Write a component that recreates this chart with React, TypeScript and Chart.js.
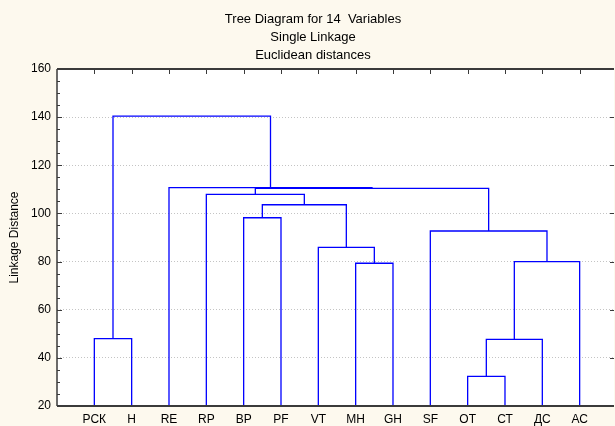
import React, { useEffect, useRef } from "react";
import { Chart, registerables } from "chart.js";

Chart.register(...registerables);

// Leaves of the tree, left to right
const leafLabels = ["РСК", "Н", "RE", "RP", "BP", "PF", "VT", "MH", "GH", "SF", "ОТ", "СТ", "ДС", "АС"];
// Merge steps: node ids < 14 are leaves, 14+ are clusters formed by earlier merges
const mergeLeft = [10, 0, 14, 7, 16, 6, 9, 4, 21, 3, 23, 2, 15];
const mergeRight = [11, 1, 12, 8, 13, 17, 18, 5, 19, 22, 20, 24, 25];
const mergeHeight = [32.3, 48.0, 47.7, 79.3, 80.0, 85.9, 92.7, 98.2, 103.6, 107.9, 110.4, 110.7, 140.4];
const yTicks = [20, 40, 60, 80, 100, 120, 140, 160];

const titleLines = ["Tree Diagram for 14  Variables", "Single Linkage", "Euclidean distances"];
const yTitle = "Linkage Distance";

const FONT = "Arial, 'Liberation Sans', sans-serif";
const CREAM = "#fdf9ee";

function buildDatasets() {
  const n = leafLabels.length;
  const base = yTicks[0];
  const nodeX: number[] = leafLabels.map((_, i) => i);
  const nodeY: number[] = leafLabels.map(() => base);
  const sets: any[] = [];
  for (let m = 0; m < mergeHeight.length; m++) {
    const a = mergeLeft[m];
    const b = mergeRight[m];
    const h = mergeHeight[m];
    sets.push({
      data: [
        { x: nodeX[a], y: nodeY[a] },
        { x: nodeX[a], y: h },
        { x: nodeX[b], y: h },
        { x: nodeX[b], y: nodeY[b] },
      ],
      showLine: true,
      borderColor: "#0000ff",
      borderWidth: 1.3,
      pointRadius: 0,
      tension: 0,
      fill: false,
    });
    nodeX[n + m] = (nodeX[a] + nodeX[b]) / 2;
    nodeY[n + m] = h;
  }
  return sets;
}

const framePlugin = {
  id: "frame",
  beforeDraw(chart: any) {
    const { ctx, chartArea: a } = chart;
    ctx.save();
    ctx.fillStyle = CREAM;
    ctx.fillRect(0, 0, chart.width, chart.height);
    ctx.fillStyle = "#ffffff";
    ctx.fillRect(a.left, a.top, a.right - a.left, a.bottom - a.top);
    ctx.restore();
  },
  afterDraw(chart: any) {
    const { ctx, chartArea: a, scales } = chart;
    const xs = scales.x;
    const ys = scales.y;
    ctx.save();
    ctx.strokeStyle = "#3a3a3a";
    // left border
    ctx.lineWidth = 1.5;
    ctx.beginPath();
    ctx.moveTo(a.left, a.top);
    ctx.lineTo(a.left, a.bottom);
    ctx.stroke();
    // top and bottom borders
    ctx.lineWidth = 2;
    ctx.beginPath();
    ctx.moveTo(a.left, a.top);
    ctx.lineTo(a.right, a.top);
    ctx.moveTo(a.left, a.bottom);
    ctx.lineTo(a.right, a.bottom);
    ctx.stroke();
    // y ticks (major + minor), inward, left and right
    ctx.lineWidth = 1;
    ctx.beginPath();
    for (let v = yTicks[0]; v <= yTicks[yTicks.length - 1]; v += 5) {
      const y = Math.round(ys.getPixelForValue(v)) + 0.5;
      const major = yTicks.includes(v);
      const len = major ? 5 : 3;
      ctx.moveTo(a.left, y);
      ctx.lineTo(a.left + len, y);
      if (major) {
        ctx.moveTo(a.right, y);
        ctx.lineTo(a.right - 4, y);
      }
    }
    // x ticks at top, inward
    for (let i = 0; i < leafLabels.length; i++) {
      const x = Math.round(xs.getPixelForValue(i)) + 0.5;
      ctx.moveTo(x, a.top);
      ctx.lineTo(x, a.top + 5);
    }
    ctx.stroke();
    ctx.restore();
  },
};

export default function App() {
  const ref = useRef<HTMLCanvasElement | null>(null);
  useEffect(() => {
    if (!ref.current) return;
    const chart = new Chart(ref.current, {
      type: "scatter",
      data: { datasets: buildDatasets() },
      options: {
        responsive: false,
        animation: false,
        layout: { padding: { left: 12, right: 1, top: 0, bottom: 0 } },
        plugins: {
          legend: { display: false },
          tooltip: { enabled: false },
          title: {
            display: true,
            text: titleLines,
            color: "#000",
            font: { family: FONT, size: 13, weight: "normal", lineHeight: 18 / 13 },
            padding: { top: 10, bottom: 5 },
          },
        },
        scales: {
          x: {
            type: "linear",
            min: -1,
            max: leafLabels.length - 0.08,
            afterBuildTicks: (s: any) => {
              s.ticks = leafLabels.map((_, i) => ({ value: i }));
            },
            afterFit: (s: any) => {
              s.height = 20;
              s.paddingLeft = 0;
              s.paddingRight = 0;
            },
            ticks: {
              autoSkip: false,
              maxRotation: 0,
              padding: 6,
              color: "#000",
              font: { family: FONT, size: 12 },
              callback: (v: any) => {
                const i = Number(v);
                return Number.isInteger(i) && i >= 0 && i < leafLabels.length ? leafLabels[i] : "";
              },
            },
            grid: { display: false, drawTicks: false },
            border: { display: false },
          },
          y: {
            type: "linear",
            min: yTicks[0],
            max: yTicks[yTicks.length - 1],
            afterFit: (s: any) => {
              s.width = 45;
            },
            ticks: {
              stepSize: 20,
              padding: 6,
              color: "#000",
              font: { family: FONT, size: 12 },
            },
            grid: { color: "#c4c4c4", lineWidth: 1, drawTicks: false },
            border: { display: false, dash: [1, 2] },
            title: {
              display: true,
              text: yTitle,
              color: "#000",
              font: { family: FONT, size: 12 },
              padding: { top: -5, bottom: 0 },
            },
          },
        },
      },
      plugins: [framePlugin],
    } as any);
    return () => chart.destroy();
  }, []);
  return (
    <div style={{ position: "fixed", left: 0, top: 0, width: 615, height: 426, background: CREAM }}>
      <canvas ref={ref} width={615} height={426} style={{ display: "block" }} />
    </div>
  );
}
